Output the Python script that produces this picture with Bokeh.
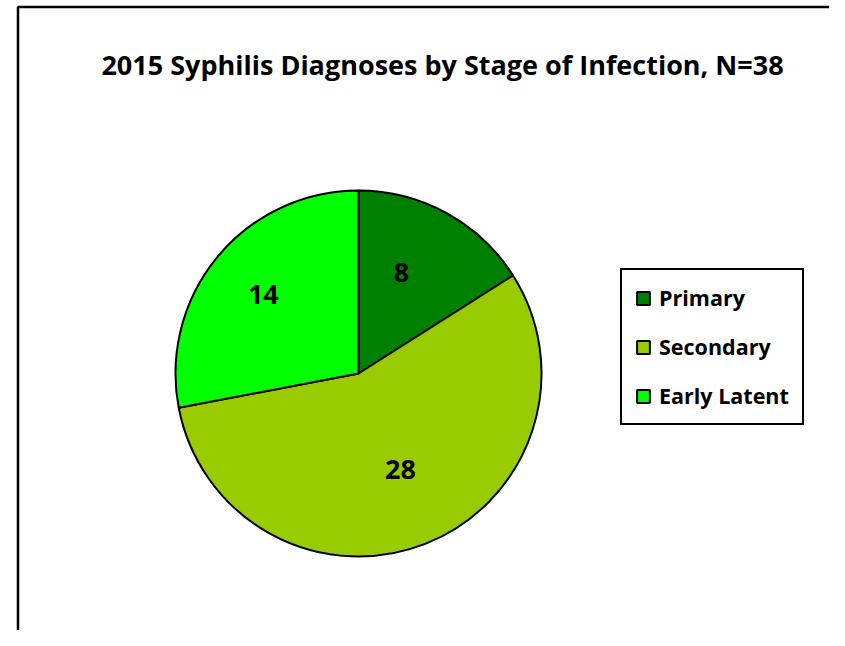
import math
from bokeh.plotting import figure
from bokeh.models import Range1d, Legend, LegendItem, ColumnDataSource, Label
from bokeh.core.properties import value
from bokeh.embed import file_html
from bokeh.resources import INLINE

# ---- data ----
title_text = "2015 Syphilis Diagnoses by Stage of Infection, N=38"
stages = ["Primary", "Secondary", "Early Latent"]
counts = [8, 28, 14]
colors = ["#008000", "#99CC00", "#00FF00"]

W, H = 829, 630
FONT = "Open Sans"

p = figure(width=W, height=H, output_backend="svg", toolbar_location=None,
           x_range=Range1d(0, W), y_range=Range1d(0, H),
           min_border=0, min_border_left=0, min_border_right=0,
           min_border_top=0, min_border_bottom=0)
p.axis.visible = False
p.grid.visible = False
p.outline_line_color = None
p.background_fill_color = "white"
p.border_fill_color = "white"

# frame of the chart area (cropped at right/bottom)
p.line(x=[17.5, 17.5, W], y=[0, H - 6.5, H - 6.5], line_color="black", line_width=2.5)

# ---- pie ----
cx, cy, r = 358, H - 373, 183
total = sum(counts)
starts, ends, mids = [], [], []
cum = 0
for c in counts:
    a0 = math.pi / 2 - cum / total * 2 * math.pi
    cum += c
    a1 = math.pi / 2 - cum / total * 2 * math.pi
    starts.append(a0)
    ends.append(a1)
    mids.append((a0 + a1) / 2)

src = ColumnDataSource(dict(start=starts, end=ends, color=colors, stage=stages,
                            count=counts))
wr = p.wedge(x=cx, y=cy, radius=r, start_angle="start", end_angle="end",
             direction="clock", fill_color="color", line_color="black",
             line_width=2, source=src)

# data labels
lab_r = [0.6, 0.572, 0.675]
lab_shift = [0.1, 0.035, 0.0]
lx = [cx + f * r * math.cos(m + s) for f, m, s in zip(lab_r, mids, lab_shift)]
ly = [cy + f * r * math.sin(m + s) for f, m, s in zip(lab_r, mids, lab_shift)]
p.text(x=lx, y=ly, text=[str(c) for c in counts], text_align="center",
       text_baseline="middle", text_font=value(FONT), text_font_style="bold",
       text_font_size="27px", text_color="black")

# title
p.add_layout(Label(x=442, y=H - 64, text=title_text, text_align="center",
                   text_baseline="middle", text_font=FONT,
                   text_font_style="bold", text_font_size="27px",
                   text_color="black"))

# legend
items = [LegendItem(label=s, renderers=[wr], index=i) for i, s in enumerate(stages)]
legend = Legend(items=items, location=(620, H - 425), orientation="vertical",
                border_line_color="black", border_line_width=2.5,
                border_line_alpha=1.0,
                background_fill_color="white", background_fill_alpha=1,
                label_text_font=FONT, label_text_font_style="bold",
                label_text_font_size="21.5px", label_text_color="black",
                glyph_width=16, glyph_height=16, label_height=22,
                label_standoff=8, spacing=20, padding=13, margin=0)
p.add_layout(legend, "center")

open("out.html", "w").write(file_html(p, INLINE))
